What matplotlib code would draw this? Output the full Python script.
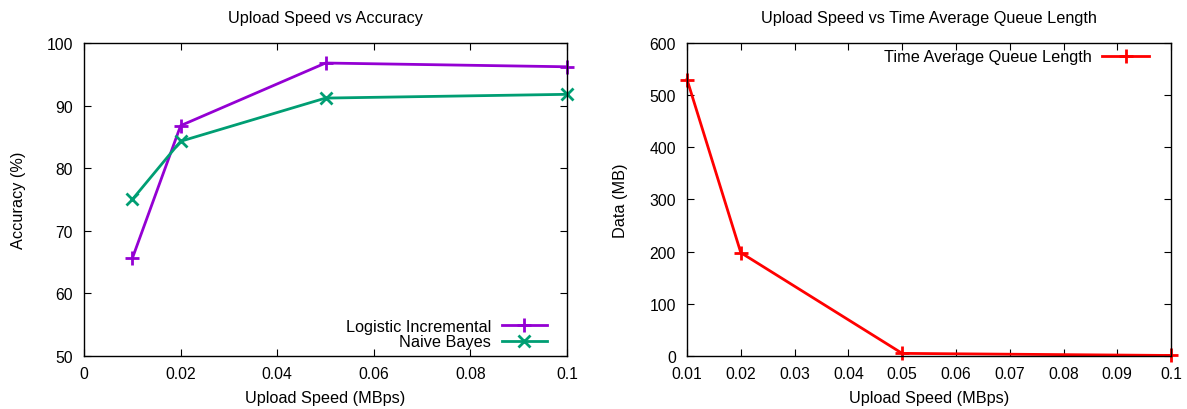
import matplotlib
matplotlib.use("Agg")
import matplotlib.pyplot as plt
from matplotlib.ticker import FuncFormatter

plt.rcParams['font.family'] = ['Liberation Sans', 'DejaVu Sans']
plt.rcParams['font.size'] = 11.5

# upload speeds (MBps)
speeds = [0.01, 0.02, 0.05, 0.1]
# accuracy (%)
logistic_acc = [65.6, 86.8, 96.8, 96.2]
bayes_acc = [75.0, 84.3, 91.2, 91.8]
# time average queue length (MB)
queue_len = [530, 198, 5, 1]

acc_xticks = [0, 0.02, 0.04, 0.06, 0.08, 0.1]
acc_yticks = [50, 60, 70, 80, 90, 100]
queue_xticks = [0.01, 0.02, 0.03, 0.04, 0.05, 0.06, 0.07, 0.08, 0.09, 0.1]
queue_yticks = [0, 100, 200, 300, 400, 500, 600]

fmt = FuncFormatter(lambda v, p: "%g" % v)


def style_axes(ax):
    ax.tick_params(direction='in', top=True, right=True, length=5, width=0.8,
                   labelsize=11.3)
    ax.tick_params(axis='x', pad=7)
    ax.tick_params(axis='y', pad=8)
    for s in ax.spines.values():
        s.set_linewidth(1.0)
    ax.xaxis.set_major_formatter(fmt)


fig = plt.figure(figsize=(11.87, 4.10), dpi=100)

# 1. accuracy panel
ax1 = fig.add_axes([0.0708, 0.1293, 0.4069, 0.7634])
ax1.plot(speeds, logistic_acc, color='#9400D3', lw=2, marker='+', ms=10, mew=2,
         label='Logistic Incremental')
ax1.plot(speeds, bayes_acc, color='#009E73', lw=2, marker='x', ms=8, mew=2,
         label='Naive Bayes')
ax1.set_xlim(0, 0.1)
ax1.set_ylim(50, 100)
ax1.set_xticks(acc_xticks)
ax1.set_yticks(acc_yticks)
style_axes(ax1)
ax1.set_title("Upload Speed vs Accuracy", fontsize=11.7, pad=15)
ax1.set_xlabel("Upload Speed (MBps)", fontsize=11.7, labelpad=7)
ax1.set_ylabel("Accuracy (%)", fontsize=11.7, labelpad=15)
ax1.legend(loc='lower right', bbox_to_anchor=(0.972, 0.0), frameon=False,
           markerfirst=False, fontsize=11.7, handlelength=2.8,
           borderaxespad=0, labelspacing=0.05, handletextpad=0.65)

# 2. queue length panel
ax2 = fig.add_axes([0.5788, 0.1293, 0.4078, 0.7634])
ax2.plot(speeds, queue_len, color='#FF0000', lw=2, marker='+', ms=10, mew=2,
         label='Time Average Queue Length')
ax2.set_xlim(0.01, 0.1)
ax2.set_ylim(0, 600)
ax2.set_xticks(queue_xticks)
ax2.set_yticks(queue_yticks)
style_axes(ax2)
ax2.set_title("Upload Speed vs Time Average Queue Length", fontsize=11.7, pad=15)
ax2.set_xlabel("Upload Speed (MBps)", fontsize=11.7, labelpad=7)
ax2.set_ylabel("Data (MB)", fontsize=11.7, labelpad=15)
ax2.legend(loc='upper right', bbox_to_anchor=(0.968, 1.0), frameon=False,
           markerfirst=False, fontsize=11.7, handlelength=2.9,
           borderaxespad=0, handletextpad=0.65)

for ax in (ax1, ax2):
    for line in ax.get_lines():
        line.set_clip_on(False)

fig.savefig("out.png", dpi=100)
